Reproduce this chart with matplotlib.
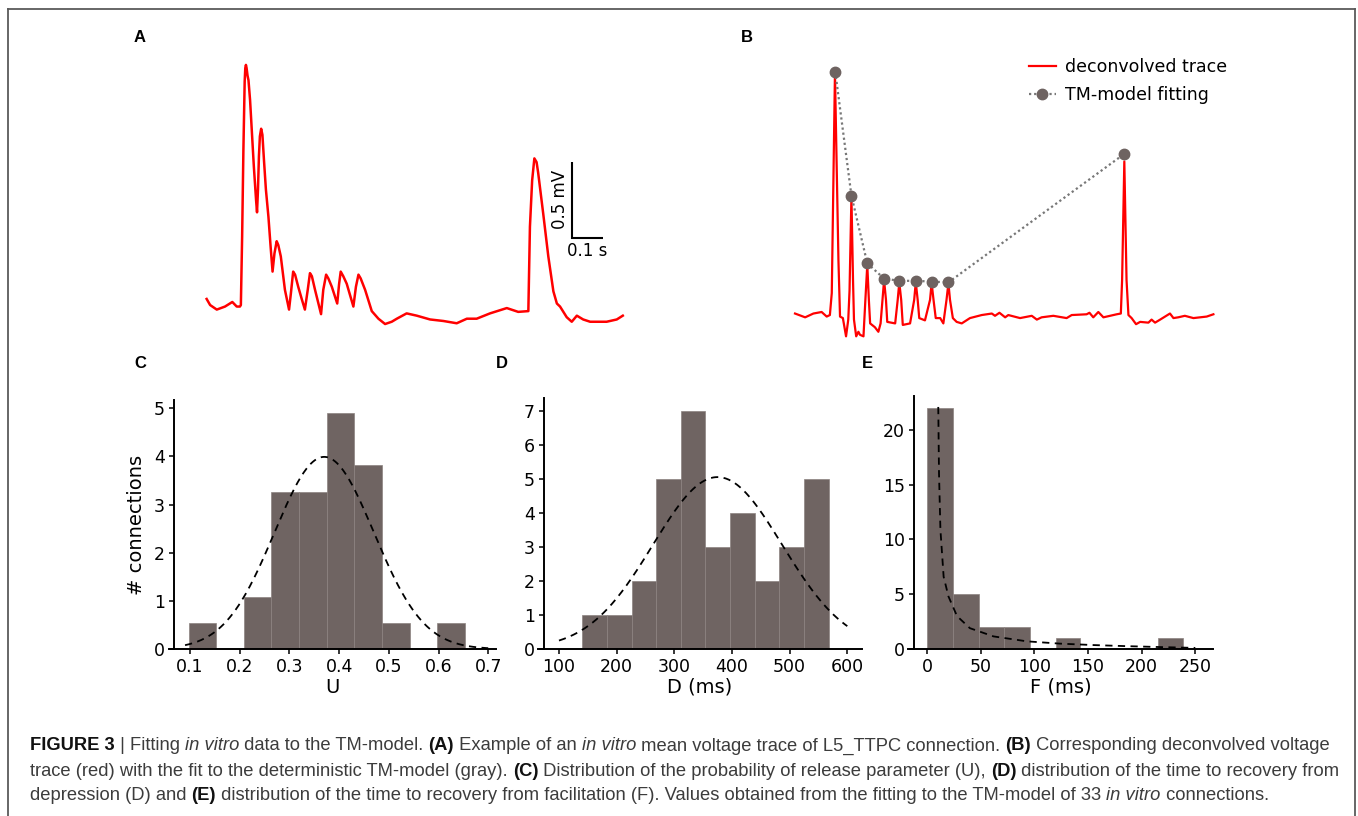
import numpy as np
import matplotlib
matplotlib.use('Agg')
import matplotlib.pyplot as plt
from matplotlib.lines import Line2D
from matplotlib import font_manager

# ---------------- data ----------------
# Panel A: mean voltage trace (time in ms, voltage in mV)
trace_a_t = [2, 13, 34, 60, 83, 97, 107, 110, 114, 118, 122, 124, 126, 128, 131, 134, 139, 151, 158, 161,
             164, 167, 170, 174, 178, 183, 189, 197, 204, 210, 216, 223, 228, 236, 249, 262, 268, 275, 281,
             291, 302, 312, 321, 328, 334, 344, 363, 370, 379, 386, 397, 414, 420, 425, 433, 444, 465, 473,
             481, 488, 502, 523, 544, 565, 586, 602, 633, 665, 707, 749, 791, 823, 854, 896, 949, 985, 1017,
             1022, 1029, 1036, 1043, 1048, 1064, 1080, 1096, 1107, 1117, 1138, 1154, 1170, 1190, 1212, 1264,
             1296, 1315]
trace_a_v = [0.04, 0.0, -0.03, -0.01, 0.02, -0.01, -0.01, 0.0, 0.45, 1.02, 1.47, 1.56, 1.58, 1.56, 1.51,
             1.48, 1.35, 0.91, 0.69, 0.61, 0.76, 0.98, 1.11, 1.16, 1.12, 0.95, 0.76, 0.58, 0.38, 0.22, 0.34,
             0.42, 0.395, 0.32, 0.10, -0.03, 0.08, 0.22, 0.20, 0.12, 0.04, -0.03, 0.10, 0.21, 0.19, 0.10,
             -0.06, 0.10, 0.20, 0.175, 0.12, 0.01, 0.14, 0.22, 0.19, 0.14, -0.01, 0.12, 0.20, 0.175, 0.10,
             -0.04, -0.09, -0.125, -0.11, -0.09, -0.055, -0.07, -0.095, -0.105, -0.12, -0.09, -0.09, -0.055,
             -0.02, -0.045, -0.04, 0.515, 0.82, 0.965, 0.94, 0.87, 0.60, 0.32, 0.09, 0.01, -0.01, -0.08,
             -0.11, -0.07, -0.095, -0.11, -0.11, -0.095, -0.07]

# Panel B: deconvolved trace
trace_b_t = [0, 32, 58, 84, 100, 110, 116, 126, 137, 142, 151, 161, 168, 172, 178, 183, 186, 193, 200, 205,
             216, 222, 228, 233, 237, 252, 263, 270, 276, 281, 287, 291, 316, 324, 329, 335, 340, 363, 376,
             381, 387, 392, 410, 426, 431, 437, 444, 458, 468, 478, 484, 489, 498, 510, 526, 552, 589, 621,
             631, 645, 663, 673, 710, 747, 763, 778, 815, 857, 873, 920, 929, 941, 957, 973, 1015, 1028,
             1032, 1039, 1046, 1052, 1062, 1076, 1089, 1115, 1125, 1136, 1152, 1183, 1194, 1209, 1230,
             1257, 1299, 1320]
trace_b_v = [0.01, -0.015, 0.01, 0.02, -0.01, 0.0, 0.145, 1.59, 0.36, -0.01, -0.02, -0.14, -0.03, 0.16,
             0.78, 0.23, -0.03, -0.14, -0.11, -0.13, -0.14, 0.10, 0.33, 0.10, -0.055, -0.08, -0.11, -0.055,
             0.10, 0.23, 0.10, -0.045, -0.055, 0.10, 0.215, 0.10, -0.065, -0.055, 0.10, 0.215, 0.10, -0.02,
             -0.035, 0.10, 0.21, 0.10, -0.02, -0.02, -0.055, 0.10, 0.21, 0.10, -0.02, -0.045, -0.055, -0.02,
             0.0, 0.01, -0.005, 0.015, -0.015, 0.0, -0.02, -0.005, -0.03, -0.015, -0.005, -0.02, 0.0, 0.005,
             0.015, -0.015, 0.02, -0.015, 0.005, 0.01, 0.23, 1.01, 0.23, 0.0, -0.02, -0.06, -0.045, -0.05,
             -0.03, -0.05, -0.03, 0.01, -0.02, -0.015, -0.005, -0.02, -0.01, 0.005]

# TM-model fitting points
fit_t = [127, 178, 228, 281, 329, 381, 431, 484, 1039]
fit_v = [1.60, 0.785, 0.34, 0.24, 0.225, 0.225, 0.22, 0.215, 1.06]

# Panel C: U histogram (density) + normal fit
u_edges = [0.097, 0.1526, 0.2082, 0.2638, 0.3194, 0.375, 0.4306, 0.4862, 0.5418, 0.5974, 0.653]
u_counts = [1, 0, 2, 6, 6, 9, 7, 1, 0, 1]
u_mu, u_sigma = 0.37, 0.10
u_fit_range = (0.09, 0.70)

# Panel D: D histogram (counts) + normal fit
d_edges = [140, 183, 226, 268, 311, 354, 397, 440, 482, 525, 568]
d_counts = [1, 1, 2, 5, 7, 3, 4, 2, 3, 5]
d_mu, d_sigma = 375, 112
d_fit_range = (100, 600)

# Panel E: F histogram (counts) + fitted curve
f_edges = [0, 24, 48, 72, 96, 120, 143, 167, 191, 215, 239]
f_counts = [22, 5, 2, 2, 0, 1, 0, 0, 0, 1]
f_fit_x = [10.5, 11.2, 12.5, 15.5, 20, 28, 40, 62, 93, 124, 155, 186, 220, 250]
f_fit_y = [22.1, 16.0, 10.9, 6.6, 4.8, 3.0, 1.9, 1.15, 0.7, 0.49, 0.36, 0.26, 0.17, 0.10]

# ---------------- style ----------------
W, H = 1358, 816
RED = '#ff0000'
BAR = '#6f6462'
MARK = '#6e6361'
TICK_FS = 12.5
LAB_FS = 14

fig = plt.figure(figsize=(W / 100, H / 100), dpi=100)
fig.patch.set_facecolor('white')


def fr(x0, y0, x1, y1):
    """pixel box -> figure fraction rect"""
    return [x0 / W, 1 - y1 / H, (x1 - x0) / W, (y1 - y0) / H]


# ---------------- panel A ----------------
axA = fig.add_axes(fr(195, 45, 635, 345))
axA.plot(trace_a_t, trace_a_v, color=RED, lw=1.8, solid_joinstyle='round')
axA.set_xlim(-34.7, 1353.5)
axA.set_ylim(-0.263, 1.711)
axA.axis('off')
# scale bar
sb_x, sb_y = 1154, 0.443
axA.plot([sb_x, sb_x, sb_x + 100], [sb_y + 0.5, sb_y, sb_y], color='black', lw=1.5,
         solid_joinstyle='miter', solid_capstyle='butt')
axA.text(sb_x - 37, sb_y + 0.25, '0.5 mV', rotation=90, ha='center', va='center', fontsize=12)
axA.text(sb_x + 50, sb_y - 0.09, '0.1 s', ha='center', va='center', fontsize=12)

# ---------------- panel B ----------------
axB = fig.add_axes(fr(785, 45, 1235, 345))
axB.plot(trace_b_t, trace_b_v, color=RED, lw=1.6, solid_joinstyle='round', zorder=2,
         label='deconvolved trace')
axB.plot(fit_t, fit_v, linestyle=(0, (1, 1.3)), color='#777777', lw=1.6, marker='o', ms=7.5,
         mfc=MARK, mec=MARK, zorder=3, label='TM-model fitting')
axB.set_xlim(-31.6, 1388.2)
axB.set_ylim(-0.197, 1.776)
axB.axis('off')
axB.legend(loc='upper left', bbox_to_anchor=(1029 / W, 1 - 58 / H), bbox_transform=fig.transFigure,
           frameon=False, fontsize=12.5, handlelength=1.55, handletextpad=0.5, labelspacing=0.58,
           borderpad=0, borderaxespad=0, numpoints=1)


# ---------------- histograms ----------------
def style_hist_ax(ax, yfrac):
    for s in ['top', 'right']:
        ax.spines[s].set_visible(False)
    for s in ['left', 'bottom']:
        ax.spines[s].set_linewidth(1.4)
    ax.spines['left'].set_position(('axes', yfrac))
    ax.tick_params(direction='out', length=3.6, width=1.1, labelsize=TICK_FS, pad=3)


axC = fig.add_axes(fr(169, 400, 496, 649))
axC.hist(np.array(u_edges[:-1]), bins=u_edges, weights=u_counts, density=True, color=BAR,
         edgecolor='#8c8280', linewidth=0.5)
xc = np.linspace(*u_fit_range, 300)
axC.plot(xc, np.exp(-(xc - u_mu) ** 2 / (2 * u_sigma ** 2)) / (u_sigma * np.sqrt(2 * np.pi)),
         color='black', lw=1.3, linestyle=(0, (4, 3)))
axC.set_xlim(0.0577, 0.7157)
axC.set_ylim(0, 5.17)
axC.set_xticks([0.1, 0.2, 0.3, 0.4, 0.5, 0.6, 0.7])
axC.set_yticks([0, 1, 2, 3, 4, 5])
axC.set_xlabel('U', fontsize=LAB_FS, labelpad=1)
axC.set_ylabel('# connections', fontsize=LAB_FS, labelpad=6)
style_hist_ax(axC, 5 / 327)

axD = fig.add_axes(fr(538, 398, 862, 649))
axD.hist(np.array(d_edges[:-1]), bins=d_edges, weights=d_counts, color=BAR,
         edgecolor='#8c8280', linewidth=0.5)
xd = np.linspace(*d_fit_range, 300)
n_d = sum(d_counts)
bw_d = d_edges[1] - d_edges[0]
axD.plot(xd, n_d * bw_d * np.exp(-(xd - d_mu) ** 2 / (2 * d_sigma ** 2)) / (d_sigma * np.sqrt(2 * np.pi)),
         color='black', lw=1.3, linestyle=(0, (4, 3)))
axD.set_xlim(63.6, 625.5)
axD.set_ylim(0, 7.38)
axD.set_xticks([100, 200, 300, 400, 500, 600])
axD.set_yticks(range(8))
axD.set_xlabel('D (ms)', fontsize=LAB_FS, labelpad=1)
style_hist_ax(axD, 6 / 324)

axE = fig.add_axes(fr(908, 396, 1213, 649))
axE.hist(np.array(f_edges[:-1]), bins=f_edges, weights=f_counts, color=BAR,
         edgecolor='#8c8280', linewidth=0.5)
axE.plot(f_fit_x, f_fit_y, color='black', lw=1.3, linestyle=(0, (4, 3)))
axE.set_xlim(-17.7, 266.5)
axE.set_ylim(0, 23.1)
axE.set_xticks([0, 50, 100, 150, 200, 250])
axE.set_yticks([0, 5, 10, 15, 20])
axE.set_xlabel('F (ms)', fontsize=LAB_FS, labelpad=1)
style_hist_ax(axE, 6 / 305)

# ---------------- panel letters ----------------
for lab, px, py in [('A', 140, 37), ('B', 747, 37), ('C', 140, 363), ('D', 502, 363), ('E', 867, 363)]:
    fig.text(px / W, 1 - py / H, lab, fontsize=12, fontweight='bold', family=['Liberation Sans', 'DejaVu Sans'],
             ha='center', va='center')

# ---------------- frame ----------------
fc = '#5a5a5a'
fig.add_artist(Line2D([8 / W, 1355 / W], [1 - 9 / H, 1 - 9 / H], transform=fig.transFigure, color=fc, lw=1.3))
fig.add_artist(Line2D([8 / W, 8 / W], [1 - 9 / H, 0], transform=fig.transFigure, color=fc, lw=1.3))
fig.add_artist(Line2D([1355 / W, 1355 / W], [1 - 9 / H, 0], transform=fig.transFigure, color=fc, lw=1.3))

# ---------------- caption ----------------
try:
    font_manager.findfont(font_manager.FontProperties(family='Liberation Sans Narrow'),
                          fallback_to_default=False)
    cap_family = ['Liberation Sans Narrow', 'Liberation Sans', 'DejaVu Sans']
except Exception:
    cap_family = ['Liberation Sans', 'DejaVu Sans']

N, B, I = ('normal', 'normal'), ('bold', 'normal'), ('normal', 'italic')
cap_lines = [
    [('FIGURE 3', B), (' | Fitting ', N), ('in vitro', I), (' data to the TM-model. ', N), ('(A)', B),
     (' Example of an ', N), ('in vitro', I), (' mean voltage trace of L5_TTPC connection. ', N), ('(B)', B),
     (' Corresponding deconvolved voltage', N)],
    [('trace (red) with the fit to the deterministic TM-model (gray). ', N), ('(C)', B),
     (' Distribution of the probability of release parameter (U), ', N), ('(D)', B),
     (' distribution of the time to recovery from', N)],
    [('depression (D) and ', N), ('(E)', B),
     (' distribution of the time to recovery from facilitation (F). Values obtained from the fitting to the TM-model of 33 ', N),
     ('in vitro', I), (' connections.', N)],
]
cap_y = [746, 771, 796]
renderer = fig.canvas.get_renderer()


def run_width(text, wt, st, size):
    def w(s):
        t = fig.text(0, 0, s, fontsize=size, fontweight=wt, fontstyle=st, family=cap_family)
        bb = t.get_window_extent(renderer)
        t.remove()
        return bb.width
    return w('x' + text + 'x') - w('xx')


base = 12.0
w1 = sum(run_width(t, s[0], s[1], base) for t, s in cap_lines[0])
cap_fs = base * (1335 - 30) / w1

for runs, py in zip(cap_lines, cap_y):
    x = 30.0
    for text, (wt, st) in runs:
        col = '#111111' if wt == 'bold' else '#3c3c3c'
        fig.text(x / W, 1 - py / H, text, fontsize=cap_fs, fontweight=wt, fontstyle=st,
                 family=cap_family, ha='left', va='center', color=col)
        x += run_width(text, wt, st, cap_fs)

fig.savefig('out.png', dpi=100)
